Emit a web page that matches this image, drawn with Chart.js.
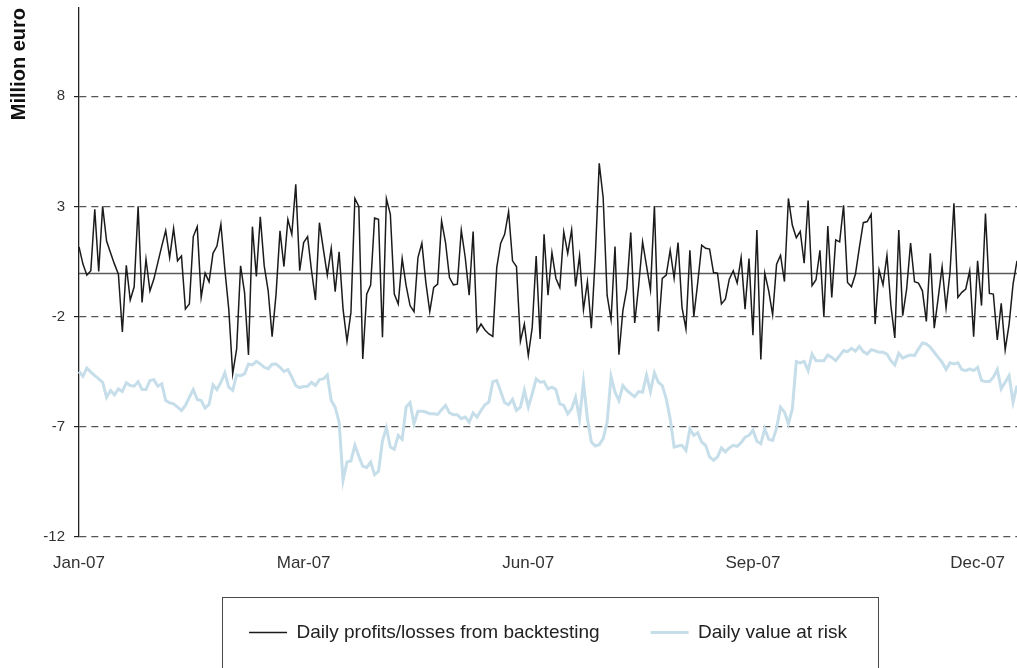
<!DOCTYPE html>
<html>
<head>
<meta charset="utf-8">
<title>Backtesting</title>
<script src="https://cdn.jsdelivr.net/npm/chart.js@4.4.1/dist/chart.umd.min.js"></script>
<style>
  html, body { margin: 0; padding: 0; background: #fff; }
  #wrap { position: relative; width: 1017px; height: 668px; }
</style>
</head>
<body>
<div id="wrap"><canvas id="chart" width="1017" height="668"></canvas></div>
<script>
// Daily series (million euro), one value per business day
const profitLoss = [
  1.16, 0.38, -0.12, 0.08, 2.87, 0.05, 3.0, 1.43, 0.9, 0.38, -0.08, -2.7, 0.33, -1.25, -0.65, 3.0, -1.36, 0.6, -0.83, -0.3,
  0.45, 1.2, 1.9, 0.68, 2.0, 0.53, 0.75, -1.66, -1.43, 1.63, 2.08, -1.13, -0.03, -0.42, 0.87, 1.2, 2.19, 0.15, -1.66, -4.6, -3.47,
  0.3, -0.9, -3.74, 2.08, -0.18, 2.53, 0.3, -0.83, -2.91, -0.98, 1.89, 0.27, 2.41, 1.73, 4.0, 0.08, 1.36, 1.63, 0.08, -1.25,
  2.26, 1.06, -0.12, 1.1, -0.87, 0.94, -1.66, -3.12, -1.81, 3.36, 3.0, -3.92, -0.98, -0.57, 2.47, 2.41, -2.94, 3.35, 2.64, -0.98, -1.43,
  0.63, -0.6, -1.5, -1.78, 0.68, 1.33, -0.45, -1.78, -0.68, -0.53, 2.34, 1.36, -0.23, -0.56, -0.53, 1.92, 0.68, -1.03, 1.86, -2.67,
  -2.34, -2.61, -2.79, -2.9, 0.23, 1.33, 1.73, 2.76, 0.53, 0.27, -3.12, -2.34, -3.77, -2.49, 0.75, -3.02, 1.73, -1.03, 0.9, -0.26, -0.68,
  1.84, 0.87, 1.93, -0.63, 0.75, -1.69, -0.42, -2.53, 0.72, 4.95, 3.39, -1.03, -2.14, 1.18, -3.73, -1.73, -0.72, 1.81, -2.29, -0.6,
  1.39, 0.3, -0.8, 3.02, -2.67, -0.27, -0.12, 1.01, -0.26, 1.36, -1.58, -2.56, 1.01, -1.99, -0.45, 1.24, 1.1, 1.06, 0, -0.03,
  -1.43, -1.21, -0.3, 0.08, -0.48, 0.68, -1.66, 0.63, -2.84, 1.93, -3.95, -0.03, -0.83, -1.92, 0.38, 0.78, -0.41, 3.36, 2.14, 1.58,
  1.86, 0.42, 3.27, -0.6, -0.33, 1.01, -2.0, 2.11, -1.13, 1.48, 1.39, 3.05, -0.45, -0.65, -0.08, 1.13, 2.26, 2.31, 2.64, -2.34, 0.12,
  -0.56, 0.78, -1.5, -2.97, 1.93, -1.96, -0.75, 1.33, -0.42, -0.48, -0.83, -2.22, 0.87, -2.53, -1.16, 0.26, -1.61, 0, 3.14, -1.13,
  -0.9, -0.75, 0.08, -2.91, 0.53, -1.5, 2.68, -0.95, -0.98, -3.06, -1.4, -3.51, -2.34, -0.53, 0.53
];

const valueAtRisk = [
  -4.49, -4.71, -4.34, -4.52, -4.68, -4.83, -4.98, -5.66, -5.35, -5.55, -5.28, -5.4, -5.0, -5.13, -5.16, -4.95, -5.31, -5.31, -4.9, -4.86,
  -5.16, -5.05, -5.81, -5.91, -5.96, -6.11, -6.26, -6.03, -5.66, -5.31, -5.76, -5.81, -6.15, -5.99, -5.1, -5.31, -4.98, -4.55, -5.2, -5.35, -4.65,
  -4.68, -4.6, -4.15, -4.19, -4.03, -4.15, -4.3, -4.37, -4.16, -4.15, -4.3, -4.49, -4.4, -4.75, -5.13, -5.22, -5.17, -5.16, -4.98, -5.13,
  -4.86, -4.83, -4.65, -5.81, -6.11, -6.79, -9.43, -8.6, -8.55, -7.84, -8.34, -8.79, -8.85, -8.6, -9.17, -9.02, -7.64, -7.04, -7.92, -8.02, -7.39,
  -7.57, -6.1, -5.91, -6.86, -6.3, -6.3, -6.33, -6.41, -6.41, -6.44, -6.23, -6.03, -6.37, -6.45, -6.45, -6.63, -6.56, -6.79, -6.37, -6.56,
  -6.26, -6.0, -5.88, -4.95, -4.9, -5.4, -5.91, -6.0, -5.76, -6.26, -6.11, -5.35, -6.11, -5.5, -4.83, -4.98, -4.95, -5.28, -5.2, -5.31, -5.96,
  -6.03, -6.41, -6.18, -5.66, -6.64, -4.98, -6.64, -7.69, -7.87, -7.81, -7.54, -6.79, -4.72, -5.43, -5.81, -5.13, -5.35, -5.5, -5.63, -5.4,
  -5.43, -4.65, -5.4, -4.55, -4.98, -5.13, -5.73, -6.64, -7.92, -7.87, -7.84, -8.07, -7.09, -7.39, -7.27, -7.69, -7.84, -8.37, -8.52, -8.37,
  -7.96, -8.14, -7.96, -7.84, -7.89, -7.72, -7.47, -7.39, -7.16, -7.66, -7.77, -7.09, -7.57, -7.62, -7.06, -6.11, -6.33, -6.86, -6.18, -4.04,
  -4.1, -4.03, -4.45, -3.7, -4.0, -4.0, -4.0, -3.74, -3.85, -4.0, -3.77, -3.54, -3.59, -3.44, -3.57, -3.35, -3.59, -3.7, -3.5, -3.55, -3.62,
  -3.62, -3.7, -4.0, -4.19, -3.67, -3.89, -3.8, -3.74, -3.77, -3.47, -3.2, -3.24, -3.39, -3.62, -3.85, -4.07, -4.4, -4.1, -4.15, -4.1,
  -4.4, -4.45, -4.37, -4.45, -4.3, -4.9, -4.95, -4.95, -4.75, -4.4, -5.28, -4.98, -4.68, -5.88, -5.13
];

// x-axis labels, one every labelStep days
const tickLabels = ['Jan-07', 'Mar-07', 'Jun-07', 'Sep-07', 'Dec-07'];
const labelStep = 57;
const yTicks = [-12, -7, -2, 3, 8];
const days = profitLoss.map((_, i) => i);

const seriesNames = ['Daily profits/losses from backtesting', 'Daily value at risk'];

// solid line at zero, drawn under the series
const zeroLine = {
  id: 'zeroLine',
  beforeDatasetsDraw(chart) {
    const { ctx, chartArea, scales } = chart;
    const y = Math.round(scales.y.getPixelForValue(0)) + 0.5;
    ctx.save();
    ctx.strokeStyle = '#5a5a5a';
    ctx.lineWidth = 1.3;
    ctx.beginPath();
    ctx.moveTo(chartArea.left, y);
    ctx.lineTo(chartArea.right, y);
    ctx.stroke();
    ctx.restore();
  }
};

// frame round the legend
const legendFrame = {
  id: 'legendFrame',
  afterDraw(chart) {
    const ctx = chart.ctx;
    ctx.save();
    ctx.strokeStyle = '#4a4a4a';
    ctx.lineWidth = 1;
    ctx.strokeRect(222.5, 597.5, 656, 80);
    ctx.restore();
  }
};

// drop the label overhang padding so the plot fills the frame
const noEdgePadding = s => {
  s.paddingTop = 0;
  s.paddingBottom = 0;
  s.paddingLeft = 0;
  s.paddingRight = 0;
};

new Chart(document.getElementById('chart'), {
  type: 'line',
  data: {
    labels: days,
    datasets: [
      {
        label: seriesNames[0],
        data: profitLoss,
        borderColor: '#1b1b1b',
        backgroundColor: '#1b1b1b',
        borderWidth: 1.5,
        pointRadius: 0,
        tension: 0
      },
      {
        label: seriesNames[1],
        data: valueAtRisk,
        borderColor: '#c6dee9',
        backgroundColor: '#c6dee9',
        borderWidth: 3,
        pointRadius: 0,
        tension: 0
      }
    ]
  },
  options: {
    responsive: false,
    animation: false,
    layout: { padding: { top: 8, right: 0, bottom: 16, left: 0 } },
    plugins: {
      tooltip: { enabled: false },
      legend: {
        position: 'bottom',
        fullSize: false,
        maxHeight: 80,
        labels: {
          usePointStyle: true,
          pointStyle: 'line',
          pointStyleWidth: 38,
          padding: 51,
          color: '#222',
          font: { family: 'Liberation Sans', size: 19 }
        }
      }
    },
    scales: {
      x: {
        afterFit: s => { s.height = 35; noEdgePadding(s); },
        grid: { display: false, drawTicks: false },
        border: { display: false },
        ticks: {
          autoSkip: false,
          maxRotation: 0,
          padding: 16,
          color: '#333',
          font: { family: 'Liberation Sans', size: 17 },
          callback: (v, i) => (i % labelStep === 0 ? tickLabels[i / labelStep] : null)
        }
      },
      y: {
        min: -12,
        max: 12,
        afterBuildTicks: s => { s.ticks = yTicks.map(v => ({ value: v })); },
        afterFit: s => { s.width = 79; noEdgePadding(s); },
        grid: {
          color: '#555',
          lineWidth: 1.2,
          tickLength: 5,
          tickColor: '#222',
          tickBorderDash: []
        },
        border: { display: true, color: '#222', width: 1.3, dash: [7, 5] },
        ticks: {
          padding: 9,
          color: '#333',
          font: { family: 'Liberation Sans', size: 15 }
        },
        title: {
          display: true,
          text: 'Million euro',
          align: 'end',
          color: '#111',
          padding: { top: 7, bottom: 0 },
          font: { family: 'Liberation Sans', size: 20, weight: 'bold' }
        }
      }
    }
  },
  plugins: [zeroLine, legendFrame]
});
</script>
</body>
</html>
